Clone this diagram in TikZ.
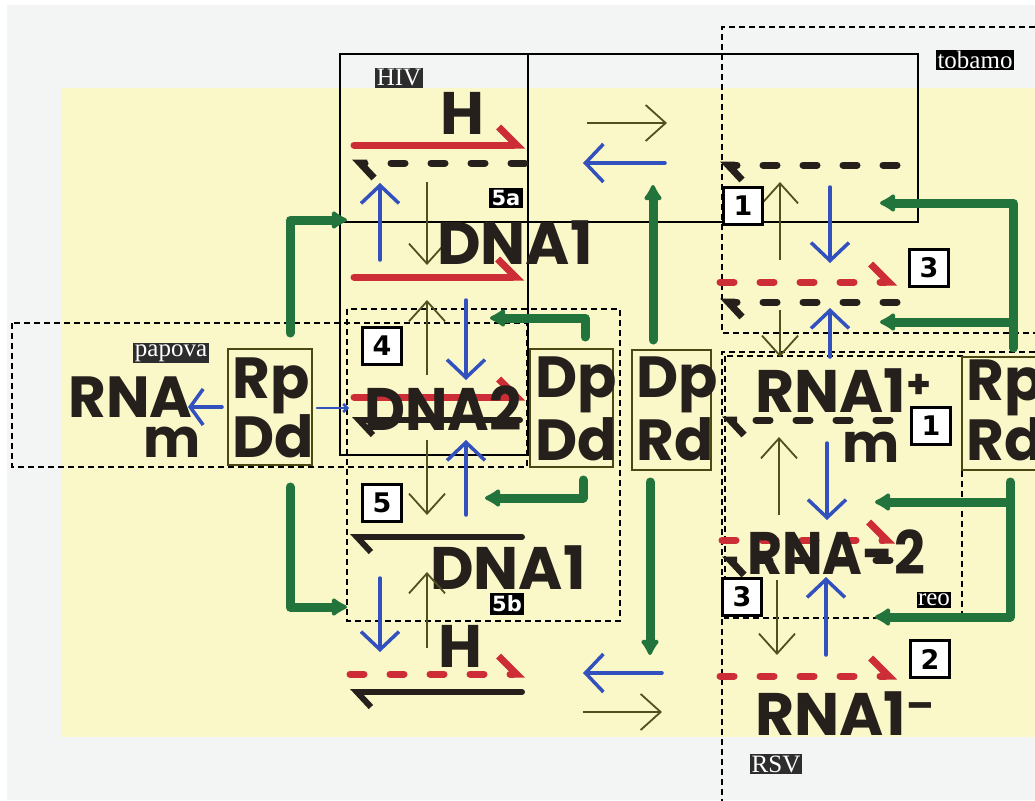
\documentclass[tikz,border=0pt]{standalone}
\usepackage{fontspec}
\setmainfont{Liberation Serif}
\newfontfamily\hand{Poppins}
\newfontfamily\pixf{DejaVu Sans}
\usetikzlibrary{arrows.meta}
\definecolor{bgY}{RGB}{250,248,200}
\definecolor{bgG}{RGB}{243,244,244}
\definecolor{mRed}{RGB}{205,45,55}
\definecolor{mInk}{RGB}{38,32,28}
\definecolor{mBlue}{RGB}{50,80,190}
\definecolor{mGreen}{RGB}{35,115,60}
\definecolor{mOlive}{RGB}{80,80,30}
\definecolor{mBox}{RGB}{75,72,20}
\definecolor{tagG}{RGB}{45,45,45}
\begin{document}
\begin{tikzpicture}[x=1pt,y=-1pt,
  big/.style={font=\hand\bfseries\fontsize{60}{62}\selectfont, text=mInk, inner sep=0pt},
  mid/.style={font=\hand\bfseries\fontsize{58}{60}\selectfont, text=mInk, inner sep=0pt},
  tag/.style={font=\fontsize{25}{27}\selectfont, text=white, fill=tagG, inner sep=1.5pt},
  tagk/.style={tag, fill=black},
  numbox/.style={draw=black, line width=2.8pt, fill=white, font=\pixf\bfseries\fontsize{27}{27}\selectfont, minimum width=39pt, minimum height=37pt, inner sep=0pt},
  subtag/.style={fill=black, text=white, font=\pixf\bfseries\fontsize{21}{21}\selectfont, inner sep=2.5pt},
  solidbox/.style={draw=black, line width=1.2pt},
  dbox/.style={draw=black, line width=1.1pt, dash pattern=on 6pt off 4pt},
  ybox/.style={draw=mBox, line width=1.6pt},
  rsolid/.style={draw=mRed, line width=7pt, line cap=round, -{Straight Barb[harpoon,length=18pt,width=36pt]}},
  rdash/.style={rsolid, dash pattern=on 14pt off 26pt},
  ksolid/.style={draw=mInk, line width=6pt, line cap=round, -{Straight Barb[harpoon,length=14pt,width=30pt]}},
  kdash/.style={ksolid, line width=7pt, dash pattern=on 14pt off 26pt},
  othin/.style={draw=mOlive, line width=1.8pt, -{Straight Barb[length=20pt,width=36pt]}},
  bl/.style={draw=mBlue, line width=3.5pt, line cap=round, -{Straight Barb[length=18pt,width=38pt]}},
  gr/.style={draw=mGreen, line width=9pt, line cap=round, line join=round, -{Latex[length=18pt,width=22pt,round]}}
]
% background
\fill[white] (0,0) rectangle (1035,800);
\fill[bgG] (7,5) rectangle (1035,800);
\fill[bgY] (62,88) rectangle (1035,737);
\useasboundingbox (0,0) rectangle (1035,800);

% frames
\draw[solidbox] (340,54) rectangle (918,222);
\draw[solidbox] (340,54) rectangle (528,455);
\draw[dbox] (1045,27) -- (722,27) -- (722,333) -- (1045,333);
\draw[dbox] (1045,352) -- (722,352) -- (722,805);
\draw[dbox] (725,356) rectangle (962,618);
\draw[dbox] (12,323) rectangle (527,467);
\draw[dbox] (347,309) rectangle (620,621);

% enzyme boxes
\draw[ybox] (228,349) rectangle (312,465);
\draw[ybox] (530,349) rectangle (613,467);
\draw[ybox] (632,350) rectangle (711,470);
\draw[ybox] (962,357) rectangle (1045,470);
\node[mid, anchor=base west] (rp1) at (232,398) {Rp};
\node[mid, anchor=base west] (dd1) at (232,457) {Dd};
\node[mid, anchor=base west] (dp2) at (535,397) {Dp};
\node[mid, anchor=base west] (dd2) at (535,460) {Dd};
\node[mid, anchor=base west] (dp3) at (636,397) {Dp};
\node[mid, anchor=base west] (rd3) at (636,460) {Rd};
\node[mid, anchor=base west] (rp4) at (966,400) {Rp};
\node[mid, anchor=base west] (rd4) at (966,460) {Rd};

% green arrows
\draw[gr] (290,333) -- (290,220) -- (347,220);
\draw[gr] (290,487) -- (290,607) -- (347,607);
\draw[gr] (585,337) -- (585,318) -- (490,318);
\draw[gr] (583,480) -- (583,498) -- (485,498);
\draw[gr] (653,340) -- (653,185);
\draw[gr] (650,482) -- (650,655);
\draw[gr] (1013,348) -- (1013,203) -- (880,203);
\draw[gr] (1013,322) -- (880,322);
\draw[gr] (1010,482) -- (1010,617) -- (875,617);
\draw[gr] (1010,502) -- (875,502);

% HIV / 5a
\draw[rsolid] (354,145) -- (525,145);
\draw[kdash] (525,163) -- (352,163);
\draw[bl] (380,260) -- (380,183);
\draw[othin] (427,182) -- (427,265);
\node[big] (h1) at (462,113) {H};
\node[big] (dna1a) at (515,243) {DNA1};
\draw[rsolid] (354,277) -- (524,277);

% middle DNA2
\draw[othin] (427,375) -- (427,300);
\draw[bl] (466,300) -- (466,380);
\draw[rsolid] (354,397) -- (525,397);
\node[big] (dna2) at (443,408) {\scalebox{0.94}[1]{DNA2}};
\draw[ksolid] (520,420) -- (352,420);
\draw[bl] (466,515) -- (466,440);
\draw[othin] (427,440) -- (427,515);

% papova
\node[mid, anchor=base west] (rna0) at (68,417) {RNA};
\node[mid, anchor=base west, font=\hand\bfseries\fontsize{54}{56}\selectfont] (m0) at (143,457) {m};
\draw[bl, -{Straight Barb[length=13pt,width=36pt]}] (222,407) -- (188,407);
\draw[bl, line width=2.5pt, -{Straight Barb[length=4pt,width=8pt]}] (317,408) -- (349,408);

% bottom DNA1 / H
\draw[ksolid] (522,537) -- (350,537);
\node[big] (dna1b) at (508,568) {DNA1};
\draw[bl] (380,578) -- (380,652);
\draw[othin] (427,648) -- (427,572);
\node[big] (h2) at (460,646) {H};
\draw[rdash] (350,674) -- (525,674);
\draw[ksolid] (522,692) -- (350,692);

% center small arrows
\draw[othin] (587,123) -- (667,123);
\draw[bl] (665,163) -- (583,163);
\draw[bl] (662,673) -- (583,673);
\draw[othin] (583,712) -- (662,712);

% tobamo
\draw[kdash] (897,165) -- (720,165);
\draw[othin] (780,260) -- (780,182);
\draw[bl] (830,187) -- (830,263);
\draw[rdash] (720,282) -- (897,282);
\draw[kdash] (897,302) -- (720,302);
\draw[othin] (780,310) -- (780,357);
\draw[bl] (830,357) -- (830,308);

% reo
\node[big, anchor=base west] (rna1p) at (755,412) {RNA1\raisebox{14pt}{\fontsize{40}{40}\selectfont+}};
\draw[kdash] (890,420) -- (722,420);
\node[mid, anchor=base west, font=\hand\bfseries\fontsize{54}{56}\selectfont] (m1) at (842,462) {m};
\draw[othin] (779,515) -- (779,437);
\draw[bl] (827,443) -- (827,520);
\draw[rdash] (722,540) -- (895,540);
\node[big] (rna2) at (836,552) {\scalebox{0.9}[1]{RNA-2}};
\draw[kdash] (890,560) -- (722,560);
\draw[bl] (826,655) -- (826,577);
\draw[othin] (777,580) -- (777,655);
\draw[rdash] (720,676) -- (897,676);
\node[big, anchor=base west] (rna1m) at (755,735) {RNA1\raisebox{16pt}{\fontsize{40}{40}\selectfont–}};

% number boxes
\node[numbox] (n1a) at (743,206) {1};
\node[numbox] (n3a) at (929,268) {3};
\node[numbox] (n4) at (382,346) {4};
\node[numbox] (n5) at (382,503) {5};
\node[numbox] (n1b) at (931,426) {1};
\node[numbox] (n3b) at (742,597) {3};
\node[numbox] (n2) at (930,659) {2};

% tags
\node[tag] (hiv) at (399,78) {HIV};
\node[tagk] (tob) at (975,60) {tobamo};
\node[tag] (pap) at (171,353) {papova};
\node[tagk] (reo) at (934,600) {reo};
\node[tag] (rsv) at (776,764) {RSV};
\node[subtag] (s5a) at (506,198) {5a};
\node[subtag] (s5b) at (507,604) {5b};
\end{tikzpicture}
\end{document}
